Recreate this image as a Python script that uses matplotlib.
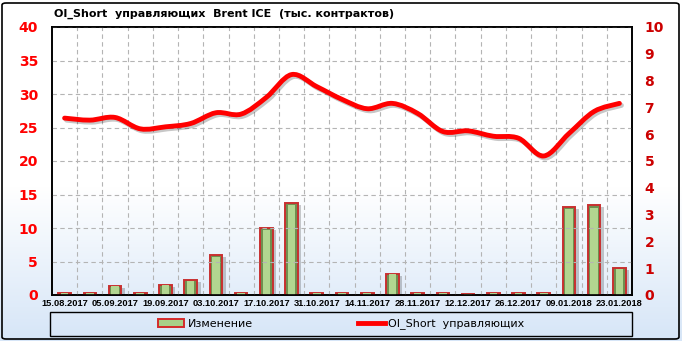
import numpy as np
import matplotlib
matplotlib.use("Agg")
import matplotlib.pyplot as plt
from matplotlib.path import Path
from matplotlib.patches import PathPatch, Rectangle, Patch, FancyBboxPatch
from matplotlib.lines import Line2D
import matplotlib.transforms as mtransforms

dates = ["15.08.2017", "29.08.2017", "05.09.2017", "12.09.2017", "19.09.2017", "26.09.2017",
         "03.10.2017", "10.10.2017", "17.10.2017", "24.10.2017", "31.10.2017", "07.11.2017",
         "14.11.2017", "21.11.2017", "28.11.2017", "05.12.2017", "12.12.2017", "19.12.2017",
         "26.12.2017", "02.01.2018", "09.01.2018", "16.01.2018", "23.01.2018"]
oi_short = [26.4, 26.1, 26.5, 24.8, 25.1, 25.6, 27.2, 27.0, 29.5, 32.9, 31.1, 29.2,
            27.8, 28.6, 27.1, 24.4, 24.5, 23.7, 23.4, 20.75, 24.1, 27.4, 28.6]
change = [0.06, 0.06, 0.35, 0.06, 0.39, 0.55, 1.48, 0.06, 2.51, 3.45, 0.06, 0.06,
          0.06, 0.8, 0.06, 0.06, 0.04, 0.06, 0.06, 0.06, 3.3, 3.34, 1.0]

left_ticks = list(range(0, 41, 5))
right_ticks = list(range(0, 11))

W, H = 682, 341
fig = plt.figure(figsize=(W / 100, H / 100), dpi=100)

# background gradient
bg = fig.add_axes([0, 0, 1, 1], zorder=-10)
grad = np.ones((200, 1, 3))
top = np.array([1.0, 1.0, 1.0])
bot = np.array([0.84, 0.90, 0.97])
for i in range(200):
    t = i / 199
    s = 0 if t < 0.55 else (t - 0.55) / 0.45
    grad[i, 0] = top * (1 - s) + bot * s
bg.imshow(grad, aspect="auto", extent=[0, 1, 0, 1], origin="upper")
bg.set_xlim(0, 1); bg.set_ylim(0, 1)
bg.axis("off")
bg.add_patch(FancyBboxPatch((2 / W, 2 / H), 677 / W, 336 / H,
                            boxstyle="round,pad=0,rounding_size=0.006",
                            transform=bg.transAxes, fill=False, ec="black", lw=1.2))
# legend frame
bg.add_patch(Rectangle((50 / W, 1 - 336 / H), 582 / W, 24 / H, transform=bg.transAxes,
                       fill=False, ec="black", lw=1.0))

ax = fig.add_axes([52 / W, 1 - 295 / H, 580 / W, 268 / H])
ax.patch.set_alpha(0)
ax2 = ax.twinx()

x = np.arange(len(dates))
ax.set_xlim(-0.5, len(dates) - 0.5)
ax.set_ylim(0, 40)
ax2.set_ylim(0, 10)

# grid
ax.set_yticks(left_ticks)
ax2.set_yticks(right_ticks)
ax.set_xticks(x[::2])
ax.set_xticklabels(dates[::2], fontsize=6.7, fontweight="bold", family="Liberation Sans")
ax.set_xticks(np.arange(0.5, len(dates) - 0.5, 1), minor=True)
ax.grid(True, which="minor", axis="x", color="#b4b4b4", ls=(0, (4, 3)), lw=0.8)
ax.grid(True, which="major", axis="y", color="#b4b4b4", ls=(0, (4, 3)), lw=0.8)
ax.tick_params(axis="both", which="both", length=0)
ax.tick_params(axis="x", pad=3)
ax.tick_params(axis="y", pad=10, labelcolor="#ff0000")
for lab in ax.get_yticklabels():
    lab.set_fontweight("bold"); lab.set_fontsize(10)
ax2.tick_params(axis="y", length=0, pad=9, labelcolor="#cc0000")
for lab in ax2.get_yticklabels():
    lab.set_fontweight("bold"); lab.set_fontsize(10)
for sp in list(ax.spines.values()) + list(ax2.spines.values()):
    sp.set_color("black"); sp.set_linewidth(1.2)

# bars (on right axis) with shadow and bevel
shadow_tr = mtransforms.offset_copy(ax2.transData, fig=fig, x=3, y=-2, units="dots")
ax2.bar(x, change, width=0.54, color="#000000", alpha=0.2, transform=shadow_tr, zorder=2)
ax2.bar(x, change, width=0.5, facecolor="#6f8f50", edgecolor="#c83030", lw=1.4, zorder=3)
ax2.bar(x, [v * 0.97 for v in change], width=0.3, facecolor="#b2d690", edgecolor="none", zorder=4)

# smooth line on left axis via cubic Bezier through data points
pts = np.column_stack([x, oi_short]).astype(float)
verts = [pts[0]]
codes = [Path.MOVETO]
n = len(pts)
for i in range(n - 1):
    p0 = pts[i - 1] if i > 0 else pts[i]
    p1 = pts[i]
    p2 = pts[i + 1]
    p3 = pts[i + 2] if i + 2 < n else pts[i + 1]
    c1 = p1 + (p2 - p0) / 6.0
    c2 = p2 - (p3 - p1) / 6.0
    verts += [c1, c2, p2]
    codes += [Path.CURVE4] * 3
path = Path(verts, codes)
sh_tr = mtransforms.offset_copy(ax.transData, fig=fig, x=2, y=-2, units="dots")
ax.add_patch(PathPatch(path, fill=False, ec="#000000", alpha=0.22, lw=3.6, transform=sh_tr,
                       zorder=5, capstyle="round"))
ax.add_patch(PathPatch(path, fill=False, ec="#ff0000", lw=3.5, zorder=6, capstyle="round",
                       joinstyle="round"))
ax.set_zorder(ax2.get_zorder() + 1)

fig.text(54 / W, 1 - 14 / H, "OI_Short  управляющих  Brent ICE  (тыс. контрактов)",
         fontsize=8, fontweight="bold", ha="left", va="center")

handles = [Patch(facecolor="#a8cf88", edgecolor="#d42a2a", lw=1.4),
           Line2D([0], [0], color="#ff0000", lw=3.5)]
fig.legend(handles, ["Изменение", "OI_Short  управляющих"], loc="center",
           bbox_to_anchor=(341 / W, 1 - 324 / H), ncol=2, frameon=False, fontsize=8,
           columnspacing=9.5, handlelength=2.4, handletextpad=0.3)

fig.savefig("out.png", dpi=100)
